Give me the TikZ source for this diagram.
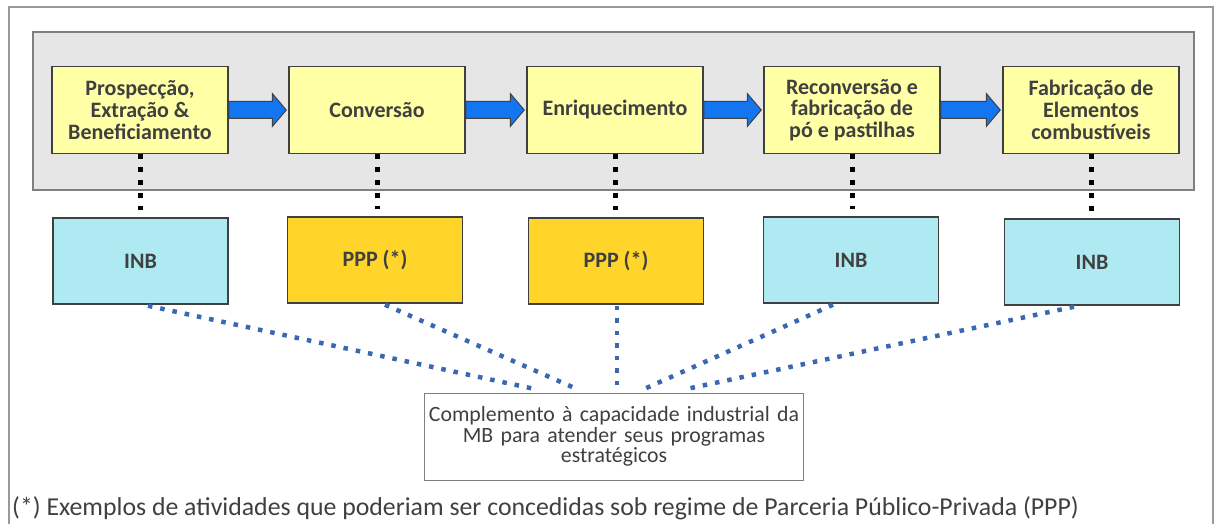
\documentclass[tikz,border=0pt]{standalone}
\usepackage{fontspec}
\setmainfont{Carlito}
\usetikzlibrary{calc}
\definecolor{panelgray}{HTML}{E6E6E6}
\definecolor{edgegray}{HTML}{404040}
\definecolor{paleyellow}{HTML}{FFFFA6}
\definecolor{palecyan}{HTML}{AFE9F1}
\definecolor{pppgold}{HTML}{FFD42B}
\definecolor{flowblue}{HTML}{1475F0}
\definecolor{linkblue}{HTML}{3A67B1}
\definecolor{textgray}{HTML}{404040}

\begin{document}
\begin{tikzpicture}[line cap=butt,line join=miter,x=1pt,y=-1pt,
  stagebox/.style={draw=edgegray,line width=1.5pt,fill=paleyellow,minimum width=176pt,minimum height=87pt,align=center,text=textgray,font=\fontsize{22}{21.7}\selectfont\bfseries},
  inbbox/.style={stagebox,fill=palecyan,minimum width=175pt,minimum height=86pt},
  pppbox/.style={inbbox,fill=pppgold},
  blockarrow/.style={draw=edgegray,line width=1pt,fill=flowblue,
    to path={([yshift=8.5pt]\tikztostart) -- ([xshift=-16pt,yshift=8.5pt]\tikztotarget) -- ([xshift=-16pt,yshift=16.5pt]\tikztotarget) -- ([xshift=-2pt]\tikztotarget) -- ([xshift=-16pt,yshift=-16.5pt]\tikztotarget) -- ([xshift=-16pt,yshift=-8.5pt]\tikztotarget) -- ([yshift=-8.5pt]\tikztostart) -- cycle}},
  blackdots/.style={line width=5pt,dash pattern=on 5pt off 8pt},
  bluedots/.style={line width=4.5pt,color=linkblue,dash pattern=on 4.5pt off 8pt}]
\useasboundingbox (0,0) rectangle (1216,524);
\draw [line width=1.5pt,color=gray!80] (9,530) -- (9,7) -- (1213,7) -- (1213,530);
\draw [line width=1.5pt,draw=gray,fill=panelgray] (33,32) rectangle (1194,190);
\node[stagebox] (p1) at (140,110) {Prospecção,\\Extração \&\\Beneficiamento};
\node[stagebox] (p2) at (377,110) {Conversão};
\node[stagebox] (p3) at (615,110) {Enriquecimento};
\node[stagebox] (p4) at (852,110) {Reconversão e\\fabricação de\\pó e pastilhas};
\node[stagebox] (p5) at (1091,110) {Fabricação de\\Elementos\\combustíveis};
\draw [blockarrow] (p1.east) to (p2.west);
\draw [blockarrow] (p2.east) to (p3.west);
\draw [blockarrow] (p3.east) to (p4.west);
\draw [blockarrow] (p4.east) to (p5.west);
\node[inbbox] (b1) at (140.5,261) {INB};
\node[pppbox] (b2) at (375,260) {PPP (*)};
\node[pppbox] (b3) at (616,261) {PPP (*)};
\node[inbbox] (b4) at (851,260) {INB};
\node[inbbox] (b5) at (1092,262) {INB};
\draw [blackdots] (p1.south) -- ([yshift=7pt]p1.south |- b1.north);
\draw [blackdots] (p2.south) -- ([yshift=7pt]p2.south |- b2.north);
\draw [blackdots] (p3.south) -- ([yshift=7pt]p3.south |- b3.north);
\draw [blackdots] (p4.south) -- ([yshift=7pt]p4.south |- b4.north);
\draw [blackdots] (p5.south) -- ([yshift=7pt]p5.south |- b5.north);
\node[draw=gray,line width=1pt,fill=white,minimum width=374pt,minimum height=87pt,text width=372pt,align=center,text=textgray,font=\fontsize{21.8}{20.7}\selectfont] (c) at (614,436.5) {Complemento à capacidade industrial da\\MB para atender seus programas\\estratégicos};
\draw [bluedots] ([xshift=7.5pt,yshift=-1pt]b1.south) -- ([xshift=-77pt,yshift=3pt]c.north);
\draw [bluedots] ([xshift=10pt,yshift=-1pt]b2.south) -- ([xshift=-36pt,yshift=3pt]c.north);
\draw [bluedots] ([xshift=1pt,yshift=-1pt]b3.south) -- ([xshift=3pt,yshift=3pt]c.north);
\draw [bluedots] ([xshift=-18pt,yshift=-1pt]b4.south) -- ([xshift=29pt,yshift=3pt]c.north);
\draw [bluedots] ([xshift=-18pt,yshift=-1pt]b5.south) -- ([xshift=70pt,yshift=3pt]c.north);
\node[anchor=base west,text=textgray,font=\fontsize{25.8}{28}\selectfont,inner sep=0pt] (note) at (12,515) {(*) Exemplos de atividades que poderiam ser concedidas sob regime de Parceria Público-Privada (PPP)};
\end{tikzpicture}
\end{document}
